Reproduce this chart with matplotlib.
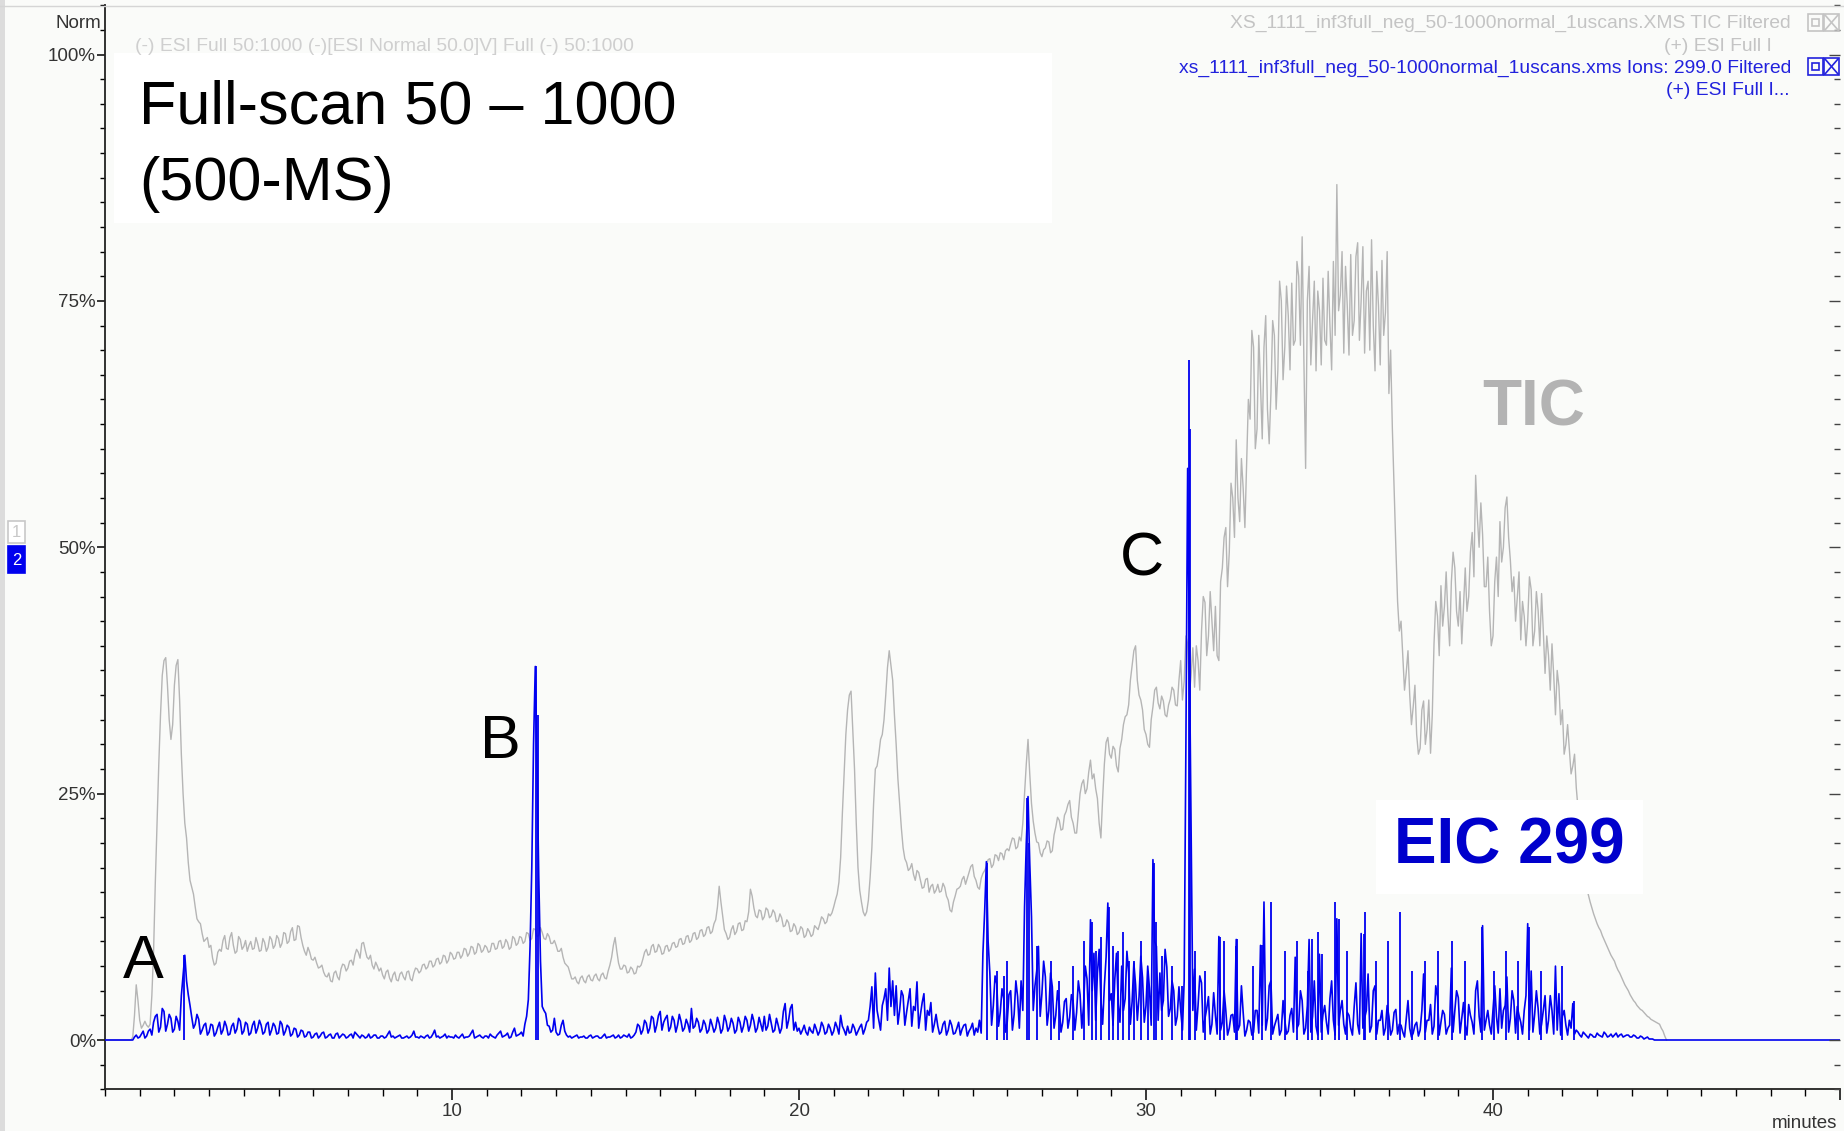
"""Recreate the full-scan TIC / EIC 299 chromatogram overlay."""

import matplotlib

matplotlib.use("Agg")
import matplotlib.pyplot as plt
from matplotlib.lines import Line2D
from matplotlib.patches import Rectangle
from matplotlib.ticker import FixedLocator, MultipleLocator

plt.rcParams["font.family"] = ["Liberation Sans", "DejaVu Sans"]

# TIC (% of max), one row per minute, values at m.0, m.1 ... m.9
tic_rows = [
    [0, 0, 0, 0, 0, 0, 0, 0, 0.3, 5.6],
    [2.0, 1.5, 1.5, 1.6, 9.0, 22.0, 33.0, 38.5, 36.0, 30.5],
    [36.0, 38.6, 29.0, 22.0, 18.0, 15.5, 13.5, 12.0, 10.8, 10.2],
    [9.4, 8.3, 7.8, 9.2, 10.1, 9.3, 10.4, 9.6, 9.0, 10.2],
    [9.5, 9.0, 10.0, 9.3, 9.8, 9.1, 9.9, 9.4, 10.2, 9.6],
    [10.3, 9.8, 10.8, 10.0, 11.4, 10.2, 11.5, 9.6, 8.6, 8.9],
    [8.1, 7.8, 7.4, 6.9, 6.4, 6.0, 6.8, 6.4, 7.2, 7.6],
    [7.3, 8.1, 8.6, 8.9, 9.8, 9.1, 8.2, 7.6, 7.9, 7.0],
    [6.6, 6.9, 6.3, 6.6, 6.1, 6.7, 6.4, 6.9, 6.2, 6.8],
    [7.2, 7.0, 7.7, 7.4, 8.0, 7.6, 8.3, 7.9, 8.5, 8.1],
    [8.7, 8.3, 8.9, 8.6, 9.2, 8.8, 9.4, 8.9, 9.6, 9.1],
    [9.4, 9.0, 9.8, 9.3, 10.1, 9.5, 9.9, 9.4, 10.3, 9.8],
    [10.4, 10.0, 10.8, 10.3, 11.2, 10.6, 10.9, 10.2, 10.5, 9.8],
    [9.6, 9.0, 8.4, 7.6, 6.8, 6.2, 5.9, 6.3, 6.0, 6.4],
    [6.1, 6.5, 6.2, 6.6, 6.3, 7.0, 8.4, 10.4, 7.8, 7.2],
    [7.5, 6.9, 7.2, 6.8, 7.4, 8.2, 9.2, 8.7, 9.7, 9.0],
    [9.4, 8.8, 9.6, 9.2, 9.9, 9.5, 10.3, 9.8, 10.6, 10.1],
    [10.9, 10.4, 11.2, 10.7, 11.5, 11.0, 12.2, 15.6, 12.6, 10.8],
    [10.4, 11.6, 11.0, 11.9, 11.2, 12.0, 15.3, 13.4, 12.4, 13.1],
    [12.5, 13.2, 12.6, 12.9, 12.1, 12.4, 11.6, 11.9, 11.1, 11.5],
    [10.9, 11.3, 10.6, 11.0, 10.7, 11.4, 11.8, 12.3, 12.0, 12.6],
    [13.5, 14.8, 18.5, 27.0, 33.5, 35.4, 27.5, 17.5, 14.0, 12.6],
    [14.2, 19.5, 27.5, 29.0, 31.0, 35.0, 39.5, 36.5, 30.0, 24.0],
    [19.5, 18.0, 17.4, 16.8, 17.2, 16.2, 15.5, 16.4, 15.6, 14.9],
    [15.8, 15.1, 15.5, 14.2, 13.0, 14.6, 15.4, 16.3, 15.8, 17.0],
    [17.8, 16.2, 15.3, 16.9, 17.6, 18.4, 17.8, 18.7, 19.0, 18.3],
    [19.4, 19.9, 20.4, 19.6, 20.2, 25.0, 30.5, 24.0, 21.0, 20.0],
    [18.6, 19.5, 20.1, 19.2, 21.6, 22.3, 21.4, 23.2, 24.3, 22.0],
    [21.0, 25.0, 26.4, 25.5, 28.4, 27.0, 24.5, 20.5, 28.0, 30.7],
    [28.6, 29.5, 27.2, 30.5, 32.8, 34.0, 38.0, 40.0, 35.0, 33.5],
    [31.0, 29.7, 33.8, 35.8, 33.6, 34.4, 32.8, 34.6, 35.5, 33.9],
    [38.5, 36.4, 40.2, 37.0, 35.8, 38.5, 41.5, 44.4, 41.0, 42.5],
    [44.0, 38.5, 47.9, 52.0, 49.5, 55.0, 60.9, 52.6, 56.0, 58.5],
    [63.0, 70.3, 62.0, 66.5, 70.3, 64.0, 65.6, 71.5, 68.0, 75.0],
    [70.3, 73.5, 76.8, 71.0, 77.5, 81.5, 58.0, 78.5, 73.0, 67.9],
    [74.0, 77.3, 70.5, 72.6, 79.0, 86.8, 75.6, 69.7, 74.5, 79.7],
    [73.0, 80.9, 75.0, 69.7, 77.0, 81.2, 67.9, 74.5, 79.1, 73.8],
    [65.6, 62.0, 50.0, 41.5, 39.0, 37.3, 35.0, 33.8, 31.0, 29.6],
    [34.4, 31.5, 29.1, 40.2, 43.0, 46.1, 44.0, 43.2, 46.5, 47.9],
    [42.0, 40.2, 47.9, 45.0, 51.5, 57.3, 50.0, 51.3, 46.0, 43.5],
    [41.0, 49.0, 52.6, 50.0, 55.1, 48.7, 47.0, 44.9, 40.6, 43.0],
    [42.5, 45.7, 41.5, 43.6, 45.3, 37.2, 39.0, 40.2, 33.0, 35.9],
    [33.5, 30.0, 29.5, 27.8, 25.6, 22.0, 18.5, 15.4, 14.0, 12.8],
    [11.8, 11.1, 10.2, 9.4, 8.6, 8.0, 7.1, 6.4, 5.6, 5.0],
    [4.3, 3.8, 3.3, 3.0, 2.6, 2.3, 2.0, 1.8, 1.6, 0.9],
    [0.0],
]

# TIC scans in between, at m.05, m.15 ... m.95
tic_mid_rows = [
    [0, 0, 0, 0, 0, 0, 0, 0, 2.5, 4.0],
    [1.2, 1.9, 1.3, 4.5, 16.0, 28.0, 37.0, 38.8, 32.5, 32.0],
    [38.0, 34.5, 25.0, 20.5, 16.2, 14.8, 12.3, 11.8, 10.0, 10.4],
    [9.6, 7.6, 8.9, 9.0, 10.6, 9.2, 10.9, 8.8, 10.5, 9.2],
    [10.1, 9.6, 9.2, 10.4, 9.0, 10.3, 9.0, 10.5, 9.3, 10.6],
    [9.4, 10.9, 9.8, 11.0, 10.1, 11.6, 10.4, 9.0, 9.4, 8.2],
    [8.4, 7.3, 7.6, 6.5, 6.8, 5.9, 7.0, 6.1, 7.7, 7.0],
    [8.0, 7.6, 9.2, 8.3, 9.9, 8.4, 8.6, 7.2, 7.5, 7.3],
    [6.2, 7.1, 5.9, 6.9, 6.0, 6.9, 6.1, 7.0, 6.0, 7.3],
    [6.8, 7.6, 7.2, 8.0, 7.4, 8.2, 7.7, 8.6, 7.8, 8.9],
    [8.2, 8.9, 8.3, 9.3, 8.5, 9.5, 8.7, 9.8, 8.9, 9.6],
    [8.9, 9.8, 9.2, 10.0, 9.3, 10.2, 9.2, 10.5, 9.6, 10.5],
    [9.8, 10.9, 10.1, 11.3, 10.5, 11.4, 10.3, 10.8, 9.8, 10.1],
    [9.0, 9.3, 7.8, 7.4, 6.2, 6.4, 5.7, 6.5, 5.8, 6.6],
    [6.0, 6.7, 6.0, 6.8, 6.2, 7.6, 9.6, 9.0, 7.2, 7.6],
    [6.8, 7.4, 6.7, 7.5, 7.6, 8.9, 8.6, 9.5, 8.9, 9.7],
    [8.7, 9.5, 9.0, 9.8, 9.4, 10.2, 9.7, 10.5, 9.9, 10.8],
    [10.2, 11.1, 10.5, 11.4, 10.8, 11.8, 13.5, 14.0, 11.2, 10.2],
    [11.2, 10.7, 11.8, 11.1, 12.1, 13.0, 14.6, 12.6, 13.2, 12.2],
    [13.4, 12.4, 13.2, 12.0, 12.8, 11.5, 12.2, 11.0, 11.8, 10.7],
    [11.5, 10.4, 11.3, 10.5, 11.6, 11.2, 12.5, 11.8, 12.8, 12.9],
    [14.2, 16.0, 23.0, 31.0, 35.0, 31.5, 22.0, 15.2, 13.0, 13.0],
    [16.5, 24.0, 27.8, 30.5, 32.5, 37.8, 38.0, 33.0, 26.5, 21.5],
    [18.4, 17.2, 17.9, 16.2, 17.0, 15.4, 16.3, 15.0, 15.8, 15.2],
    [15.0, 15.9, 14.6, 13.2, 14.0, 15.3, 15.6, 16.6, 16.4, 17.6],
    [16.6, 15.5, 16.4, 17.2, 18.3, 17.5, 18.8, 18.2, 18.9, 19.2],
    [19.2, 20.5, 19.4, 20.6, 22.0, 28.0, 27.0, 22.2, 20.1, 19.0],
    [19.3, 20.2, 19.0, 20.8, 22.6, 21.3, 22.8, 23.9, 22.6, 21.0],
    [23.0, 26.0, 25.0, 27.2, 26.5, 25.5, 22.0, 24.5, 30.2, 29.0],
    [29.8, 27.8, 29.6, 32.0, 33.0, 36.5, 39.5, 36.5, 34.5, 31.5],
    [30.0, 32.5, 35.5, 34.2, 34.9, 33.0, 34.0, 35.8, 34.0, 36.5],
    [34.5, 41.0, 35.0, 39.8, 40.0, 35.5, 45.0, 39.0, 45.5, 39.5],
    [39.0, 46.5, 51.0, 46.0, 56.5, 51.0, 55.0, 59.0, 52.0, 65.0],
    [72.0, 60.0, 71.5, 61.0, 73.5, 60.5, 73.0, 64.0, 77.0, 67.0],
    [76.5, 68.0, 70.5, 79.0, 70.5, 69.0, 75.0, 68.5, 77.0, 76.0],
    [68.5, 71.0, 78.0, 68.0, 71.5, 74.0, 80.0, 78.5, 69.5, 71.5],
    [79.5, 71.0, 80.5, 76.0, 70.0, 72.5, 78.0, 68.5, 71.5, 80.0],
    [70.0, 56.0, 44.5, 42.5, 35.5, 39.5, 32.0, 36.0, 29.0, 33.5],
    [30.0, 34.5, 33.0, 44.5, 39.0, 42.0, 47.5, 40.0, 49.5, 43.5],
    [45.5, 44.0, 43.5, 49.5, 47.0, 53.0, 54.5, 46.0, 49.0, 40.0],
    [46.5, 45.0, 48.5, 54.0, 51.0, 45.5, 42.5, 47.5, 44.5, 40.0],
    [47.0, 40.0, 45.5, 40.0, 41.5, 41.0, 35.5, 37.0, 37.5, 32.0],
    [29.0, 32.0, 27.0, 29.0, 23.5, 20.2, 17.0, 14.7, 13.4, 12.3],
    [11.4, 10.6, 9.8, 9.0, 8.3, 7.5, 6.8, 6.0, 5.3, 4.6],
    [4.0, 3.5, 3.1, 2.8, 2.4, 2.1, 1.9, 1.7, 1.2, 0.4],
]

# EIC m/z 299 (% of max), same layout as the TIC rows
eic_rows = [
    [0, 0, 0, 0, 0, 0, 0, 0, 0.0, 0.5],
    [0.3, 0.9, 0.4, 1.1, 1.8, 2.6, 1.3, 2.9, 1.6, 2.2],
    [1.1, 1.9, 4.5, 8.6, 4.6, 2.3, 1.6, 2.1, 1.0, 1.7],
    [0.8, 1.5, 0.7, 1.8, 1.0, 1.4, 0.6, 1.7, 1.1, 1.9],
    [0.9, 1.6, 0.7, 1.9, 1.2, 1.5, 0.8, 1.8, 1.0, 1.4],
    [0.7, 1.6, 0.9, 1.3, 0.6, 1.1, 0.5, 0.9, 0.4, 0.8],
    [0.3, 0.7, 0.4, 0.8, 0.3, 0.6, 0.2, 0.7, 0.4, 0.5],
    [0.3, 0.6, 0.8, 0.4, 0.5, 0.2, 0.6, 0.3, 0.5, 0.2],
    [0.4, 0.3, 0.9, 0.4, 0.3, 0.5, 0.2, 0.4, 0.3, 0.9],
    [0.3, 0.4, 0.2, 0.5, 0.3, 1.0, 0.4, 0.3, 0.6, 0.4],
    [0.3, 0.5, 0.2, 0.6, 0.3, 0.4, 1.0, 0.3, 0.5, 0.2],
    [0.4, 0.6, 0.3, 0.5, 0.9, 0.4, 0.7, 0.3, 1.2, 0.5],
    [0.8, 1.6, 4.1, 17.6, 37.9, 16.6, 3.4, 2.7, 1.4, 1.0],
    [0.8, 0.6, 2.0, 0.5, 0.4, 0.3, 0.5, 0.3, 0.4, 0.2],
    [0.5, 0.3, 0.4, 0.2, 0.6, 0.3, 0.4, 0.2, 0.5, 0.3],
    [0.4, 0.6, 0.3, 0.8, 1.4, 1.0, 1.7, 1.2, 2.2, 1.5],
    [2.9, 1.8, 2.5, 1.3, 2.0, 1.5, 1.9, 1.2, 1.6, 3.2],
    [1.4, 1.8, 1.1, 1.6, 1.0, 1.5, 1.2, 1.7, 1.1, 1.9],
    [1.3, 1.7, 1.0, 1.8, 1.4, 2.0, 1.5, 1.9, 1.2, 1.6],
    [2.4, 1.4, 1.7, 1.0, 1.5, 1.2, 3.7, 2.0, 3.6, 1.8],
    [1.2, 1.0, 0.8, 1.3, 0.7, 1.1, 0.9, 1.4, 0.8, 1.2],
    [0.9, 1.3, 2.5, 1.0, 1.4, 0.8, 1.2, 0.9, 1.6, 1.1],
    [2.0, 5.4, 6.8, 2.0, 3.5, 5.2, 7.3, 6.0, 5.5, 3.0],
    [4.5, 2.8, 5.2, 3.4, 5.9, 2.6, 4.7, 3.0, 3.8, 1.6],
    [1.4, 0.8, 1.9, 1.0, 1.5, 0.7, 1.8, 1.1, 1.6, 0.9],
    [1.7, 1.2, 2.0, 8.8, 18.1, 6.8, 3.5, 5.7, 2.8, 4.2],
    [1.8, 5.0, 2.6, 4.4, 6.0, 13.5, 24.7, 12.5, 5.5, 9.5],
    [4.7, 6.4, 3.0, 5.4, 2.5, 3.6, 1.8, 4.2, 2.3, 3.9],
    [2.8, 4.6, 3.5, 6.2, 12.2, 8.8, 6.8, 4.1, 5.5, 13.9],
    [4.7, 6.1, 3.6, 7.5, 4.2, 6.8, 3.9, 5.6, 4.4, 6.3],
    [3.5, 5.2, 18.3, 9.5, 6.8, 4.0, 7.4, 3.2, 5.0, 2.4],
    [3.0, 6.0, 58.0, 21.0, 7.2, 3.5, 5.8, 2.2, 4.4, 1.6],
    [2.5, 10.5, 1.8, 3.0, 1.2, 2.6, 10.2, 1.5, 2.8, 1.0],
    [1.8, 0.8, 3.0, 9.6, 14.0, 2.2, 6.0, 1.4, 2.6, 1.0],
    [2.0, 0.9, 3.2, 8.4, 1.6, 4.0, 1.2, 10.2, 2.4, 1.4],
    [8.7, 2.6, 1.8, 4.2, 2.0, 12.3, 3.0, 1.6, 2.8, 1.2],
    [3.4, 1.6, 10.8, 2.2, 6.7, 1.4, 5.5, 2.0, 3.0, 1.2],
    [2.4, 1.0, 3.1, 1.6, 0.8, 2.2, 1.2, 0.7, 1.8, 1.0],
    [6.7, 2.0, 3.6, 1.4, 4.4, 1.8, 2.6, 1.2, 7.3, 3.0],
    [4.3, 2.2, 1.5, 3.6, 1.8, 5.0, 2.4, 11.6, 2.0, 1.5],
    [3.0, 2.4, 5.2, 3.0, 6.4, 2.2, 4.0, 3.4, 1.8, 3.0],
    [11.8, 7.0, 2.6, 3.2, 1.6, 4.5, 2.0, 3.0, 7.5, 4.7],
    [2.4, 1.5, 2.0, 3.7, 1.0, 0.5, 0.8, 0.4, 0.6, 0.3],
    [0.7, 0.4, 0.8, 0.3, 0.6, 0.5, 0.3, 0.6, 0.4, 0.5],
    [0.3, 0.4, 0.2, 0.3, 0.2, 0.1, 0.1, 0.0, 0.0, 0.0],
    [0, 0, 0, 0, 0, 0, 0, 0, 0, 0],
    [0, 0, 0, 0, 0, 0, 0, 0, 0, 0],
    [0, 0, 0, 0, 0, 0, 0, 0, 0, 0],
    [0, 0, 0, 0, 0, 0, 0, 0, 0, 0],
    [0, 0, 0, 0, 0, 0, 0, 0, 0, 0],
    [0.0],
]

# EIC scans in between, at m.05, m.15 ... m.95
eic_mid_rows = [
    [0, 0, 0, 0, 0, 0, 0, 0, 0.3, 0.2],
    [0.6, 0.2, 0.9, 0.5, 2.4, 0.8, 3.2, 0.9, 2.6, 0.8],
    [2.4, 1.0, 6.5, 6.0, 3.5, 1.2, 2.6, 0.6, 1.5, 0.5],
    [1.6, 0.4, 1.3, 0.6, 1.9, 0.5, 1.4, 0.7, 2.2, 0.6],
    [1.8, 0.5, 1.5, 0.7, 2.0, 0.6, 1.6, 0.5, 1.7, 0.6],
    [1.9, 0.5, 1.5, 0.4, 1.2, 0.3, 1.0, 0.3, 0.8, 0.2],
    [0.6, 0.2, 0.7, 0.2, 0.5, 0.2, 0.6, 0.2, 0.6, 0.2],
    [0.5, 0.2, 0.6, 0.2, 0.4, 0.3, 0.2, 0.5, 0.2, 0.4],
    [0.2, 0.6, 0.3, 0.2, 0.4, 0.2, 0.3, 0.2, 0.5, 0.3],
    [0.2, 0.3, 0.4, 0.2, 0.6, 0.3, 0.2, 0.4, 0.2, 0.3],
    [0.2, 0.3, 0.4, 0.2, 0.3, 0.7, 0.2, 0.4, 0.3, 0.4],
    [0.2, 0.4, 0.2, 0.7, 0.3, 0.5, 0.2, 0.8, 0.4, 0.6],
    [0.4, 2.4, 9.5, 30.0, 28.0, 8.0, 3.0, 1.5, 0.8, 2.2],
    [0.5, 1.5, 0.9, 0.3, 0.2, 0.4, 0.2, 0.3, 0.2, 0.4],
    [0.2, 0.4, 0.2, 0.4, 0.2, 0.3, 0.5, 0.3, 0.2, 0.5],
    [0.3, 0.2, 0.5, 1.6, 0.6, 2.0, 0.7, 2.4, 0.8, 2.5],
    [1.0, 2.2, 0.9, 2.4, 0.8, 2.6, 0.9, 2.1, 0.8, 1.2],
    [2.2, 0.8, 2.0, 0.7, 2.1, 0.8, 2.3, 0.7, 2.5, 0.9],
    [2.2, 0.7, 2.3, 0.8, 2.4, 0.9, 2.6, 0.8, 2.3, 0.9],
    [1.0, 2.6, 0.8, 2.2, 0.7, 2.9, 1.2, 3.2, 1.0, 0.9],
    [0.6, 1.5, 0.5, 0.9, 1.6, 0.5, 1.8, 0.6, 1.6, 0.5],
    [1.8, 0.6, 1.4, 0.5, 0.7, 1.6, 0.5, 1.3, 0.6, 1.8],
    [3.4, 1.2, 3.0, 1.0, 4.2, 2.0, 3.4, 2.5, 1.6, 5.0],
    [1.5, 4.0, 1.4, 3.0, 1.2, 3.8, 1.0, 2.5, 0.8, 2.6],
    [0.6, 1.6, 0.5, 2.0, 0.6, 1.2, 0.5, 1.5, 0.4, 1.2],
    [0.5, 0.8, 0.7, 13.0, 10.0, 1.5, 6.5, 1.4, 5.2, 0.8],
    [4.6, 1.0, 6.0, 1.2, 3.0, 20.0, 18.0, 3.0, 7.0, 2.4],
    [8.0, 1.5, 6.8, 1.2, 5.0, 0.8, 3.9, 1.2, 4.6, 1.0],
    [6.0, 1.2, 7.5, 1.5, 5.0, 2.0, 9.2, 1.6, 8.4, 4.0],
    [1.5, 8.8, 1.8, 3.0, 9.0, 1.6, 7.8, 2.0, 8.5, 1.8],
    [7.5, 1.5, 10.0, 2.0, 3.0, 9.2, 2.4, 6.0, 1.5, 5.4],
    [1.0, 30.0, 40.0, 3.0, 1.0, 6.5, 0.8, 3.2, 0.6, 4.8],
    [0.6, 1.0, 5.0, 0.5, 2.5, 0.8, 1.0, 5.5, 0.4, 2.0],
    [0.5, 3.0, 0.7, 1.5, 1.0, 5.5, 0.6, 2.0, 0.5, 4.0],
    [0.6, 2.5, 0.8, 1.2, 5.0, 0.6, 3.5, 0.8, 6.0, 0.5],
    [0.8, 3.5, 0.6, 6.0, 0.5, 1.5, 4.0, 0.6, 2.5, 0.5],
    [5.8, 0.6, 1.2, 3.0, 0.8, 5.0, 0.6, 2.0, 0.5, 3.5],
    [0.5, 2.8, 0.6, 1.5, 0.3, 4.0, 0.3, 1.5, 0.4, 3.0],
    [0.8, 2.0, 0.6, 5.5, 0.5, 3.0, 0.6, 1.5, 0.8, 5.0],
    [0.7, 3.8, 0.5, 2.5, 0.6, 6.0, 0.8, 1.0, 3.0, 0.6],
    [5.5, 0.7, 1.2, 3.5, 0.8, 5.0, 0.7, 2.5, 0.6, 4.5],
    [1.0, 0.8, 5.0, 0.6, 3.0, 0.7, 4.5, 0.6, 1.0, 0.5],
    [3.0, 0.5, 1.2, 0.6, 0.8, 0.3, 0.6, 0.2, 0.5, 0.3],
    [0.5, 0.3, 0.6, 0.4, 0.3, 0.7, 0.5, 0.3, 0.5, 0.3],
    [0.5, 0.2, 0.4, 0.1, 0.3, 0.1, 0.0, 0.0, 0.0, 0.0],
]

# narrow EIC spikes (minutes, %)
spike_time = [2.28, 12.42, 12.47, 25.42, 25.7, 25.9, 26.0, 26.57, 26.62,
              26.85, 27.25, 27.5, 27.9, 28.2, 28.44, 28.55, 28.7, 28.92,
              29.05, 29.2, 29.35, 29.5, 29.65, 29.85, 30.05, 30.22, 30.3,
              30.45, 30.75, 31.05, 31.24, 31.28, 31.42, 31.7, 32.14,
              32.24, 32.58, 32.62, 33.08, 33.34, 33.59, 34.0, 34.35, 34.68,
              34.78, 34.95, 35.07, 35.46, 35.57, 35.8, 36.27, 36.3, 36.64,
              36.98, 37.32, 37.66, 38.04, 38.41, 38.81, 39.19, 39.69, 40.03,
              40.37, 40.71, 41.05, 41.39, 41.98, 42.34]
spike_pct = [8.6, 38.0, 33.0, 18.0, 7.0, 6.5, 8.0, 24.6, 20.0,
             9.5, 8.0, 6.0, 7.5, 10.0, 12.0, 9.0, 10.5, 13.5,
             9.5, 9.0, 11.0, 8.0, 8.0, 10.0, 7.0, 18.0, 12.0,
             8.5, 7.5, 5.5, 69.0, 62.0, 9.0, 7.0, 10.5,
             10.0, 9.5, 10.2, 7.5, 9.6, 14.0, 9.0, 10.0, 7.0,
             10.2, 11.0, 8.7, 14.0, 12.3, 9.0, 10.8, 13.0, 8.0,
             10.0, 13.0, 7.0, 8.0, 9.0, 10.0, 8.0, 11.5, 7.0,
             9.0, 8.0, 11.5, 7.0, 7.5, 4.0]

y_ticks = [0, 25, 50, 75, 100]
y_labels = ["0%", "25%", "50%", "75%", "100%"]
x_ticks = [10, 20, 30, 40, 50]
x_labels = ["10", "20", "30", "40", ""]

W, H = 1844, 1131
GRAY = "#b5b5b5"
BLUE = "#0000f0"
SMALL = 13.5
HEAD = 13.9


def fx(px):
    return px / W


def fy(py):
    return 1 - py / H


def unroll(rows, offset=0.0):
    points = []
    for minute, row in enumerate(rows):
        for k, v in enumerate(row):
            points.append((round(minute + offset + 0.1 * k, 2), v))
    return points


def trace(rows, mid_rows):
    points = sorted(unroll(rows) + unroll(mid_rows, 0.05))
    return [p[0] for p in points], [p[1] for p in points]


def main() -> None:
    tic_t, tic_v = trace(tic_rows, tic_mid_rows)
    eic_t, eic_v = trace(eic_rows, eic_mid_rows)

    fig = plt.figure(figsize=(W / 100, H / 100), dpi=100, facecolor="#fafbf9")
    top, bottom = 1040 - 105 * 9.855, 1040 + 5 * 9.855
    ax = fig.add_axes([fx(105), fy(bottom), (1840 - 105) / W, (bottom - top) / H])
    ax.set_facecolor("#fafbf9")

    ax.plot(tic_t, tic_v, color=GRAY, lw=1.0, zorder=2)
    ax.plot(eic_t, eic_v, color=BLUE, lw=1.2, zorder=3)
    ax.vlines(spike_time, 0, spike_pct, color=BLUE, lw=1.3, zorder=3)

    ax.set_xlim(0, 50)
    ax.set_ylim(-5, 105)
    for side in ("top", "right"):
        ax.spines[side].set_visible(False)
    for side in ("left", "bottom"):
        ax.spines[side].set_color("#222222")
        ax.spines[side].set_linewidth(1.3)

    ax.yaxis.set_major_locator(FixedLocator(y_ticks))
    ax.set_yticklabels(y_labels)
    ax.yaxis.set_minor_locator(MultipleLocator(2.5))
    ax.xaxis.set_major_locator(FixedLocator(x_ticks))
    ax.set_xticklabels(x_labels)
    ax.xaxis.set_minor_locator(MultipleLocator(1))
    ax.tick_params(axis="y", which="major", direction="out", length=6,
                   width=1.1, labelsize=SMALL, labelcolor="#333333", pad=0.5)
    ax.tick_params(axis="y", which="minor", direction="out", length=3.5,
                   width=1.0)
    ax.tick_params(axis="x", which="major", direction="out", length=8,
                   width=1.1, labelsize=SMALL, labelcolor="#333333", pad=2)
    ax.tick_params(axis="x", which="minor", direction="out", length=5,
                   width=1.0)

    right = ax.twinx()
    right.set_ylim(-5, 105)
    for side in right.spines.values():
        side.set_visible(False)
    right.yaxis.set_major_locator(FixedLocator(y_ticks))
    right.yaxis.set_minor_locator(MultipleLocator(2.5))
    right.tick_params(axis="y", which="both", direction="in", labelright=False,
                      width=1.0, color="#444444")
    right.tick_params(axis="y", which="major", length=8)
    right.tick_params(axis="y", which="minor", length=4)

    # frame decorations
    fig.add_artist(Rectangle((0, 0), fx(5), 1, transform=fig.transFigure,
                             color="#dcdcdc", lw=0))
    fig.add_artist(Line2D([0, 1], [fy(6), fy(6)], transform=fig.transFigure,
                          color="#d5d5d5", lw=1))

    fig.text(fx(101), fy(28), "Norm", ha="right", va="baseline",
             fontsize=SMALL, color="#333333")
    fig.text(fx(1837), fy(1128), "minutes", ha="right", va="baseline",
             fontsize=SMALL, color="#333333")

    fig.text(fx(135), fy(51), "(-) ESI Full 50:1000 (-)[ESI Normal 50.0]V] Full (-) 50:1000",
             ha="left", va="baseline", fontsize=HEAD, color="#cfcfcf")
    fig.text(fx(1791), fy(28), "XS_1111_inf3full_neg_50-1000normal_1uscans.XMS TIC Filtered",
             ha="right", va="baseline", fontsize=HEAD, color="#c4c4c4")
    fig.text(fx(1772), fy(51), "(+) ESI Full I", ha="right", va="baseline",
             fontsize=HEAD, color="#c4c4c4")
    fig.text(fx(1791), fy(73), "xs_1111_inf3full_neg_50-1000normal_1uscans.xms Ions: 299.0 Filtered",
             ha="right", va="baseline", fontsize=HEAD, color="#2222dd")
    fig.text(fx(1789), fy(95), "(+) ESI Full I...", ha="right", va="baseline",
             fontsize=HEAD, color="#2222dd")

    # window icons at top right
    for y0, col in ((14, "#c4c4c4"), (58, "#2222dd")):
        for x0 in (1808, 1824):
            fig.add_artist(Rectangle((fx(x0), fy(y0 + 17)), 15 / W, 17 / H,
                                     transform=fig.transFigure, fill=False,
                                     ec=col, lw=1.2))
        fig.add_artist(Rectangle((fx(1812), fy(y0 + 12)), 7 / W, 7 / H,
                                 transform=fig.transFigure, fill=False,
                                 ec=col, lw=1.2))
        fig.add_artist(Line2D([fx(1825), fx(1838)], [fy(y0 + 1), fy(y0 + 16)],
                              transform=fig.transFigure, color=col, lw=1.2))
        fig.add_artist(Line2D([fx(1825), fx(1838)], [fy(y0 + 16), fy(y0 + 1)],
                              transform=fig.transFigure, color=col, lw=1.2))

    # trace selector boxes on the left edge
    fig.add_artist(Rectangle((fx(8), fy(543)), 17 / W, 22 / H,
                             transform=fig.transFigure, fc="white",
                             ec="#c8c8c8", lw=1.2))
    fig.text(fx(16.5), fy(532), "1", ha="center", va="center", fontsize=12,
             color="#c8c8c8")
    fig.add_artist(Rectangle((fx(8), fy(573)), 17 / W, 27 / H,
                             transform=fig.transFigure, fc="#0000ee",
                             ec="#0000ee", lw=1.2))
    fig.text(fx(16.5), fy(560), "2", ha="center", va="center", fontsize=12,
             color="white")

    # annotation boxes and labels
    fig.add_artist(Rectangle((fx(114), fy(223)), (1052 - 114) / W,
                             (223 - 53) / H, transform=fig.transFigure,
                             fc="white", lw=0))
    fig.text(fx(139), fy(123), "Full-scan 50 \u2013 1000", ha="left",
             va="baseline", fontsize=44, color="black")
    fig.text(fx(139), fy(200), "(500-MS)", ha="left", va="baseline",
             fontsize=44, color="black")
    fig.add_artist(Rectangle((fx(1376), fy(894)), (1643 - 1376) / W,
                             (894 - 800) / H, transform=fig.transFigure,
                             fc="white", lw=0))
    fig.text(fx(1509), fy(864), "EIC 299", ha="center", va="baseline",
             fontsize=46, fontweight="bold", color="#0000cc")
    fig.text(fx(1534), fy(426), "TIC", ha="center", va="baseline",
             fontsize=46, fontweight="bold", color="#b3b3b3")
    for letter, xp, yp in (("A", 143, 978), ("B", 500, 758), ("C", 1142, 576)):
        fig.text(fx(xp), fy(yp), letter, ha="center", va="baseline",
                 fontsize=44, color="black")

    fig.savefig("out.png", dpi=100, facecolor=fig.get_facecolor())
    plt.close(fig)


if __name__ == "__main__":
    main()
